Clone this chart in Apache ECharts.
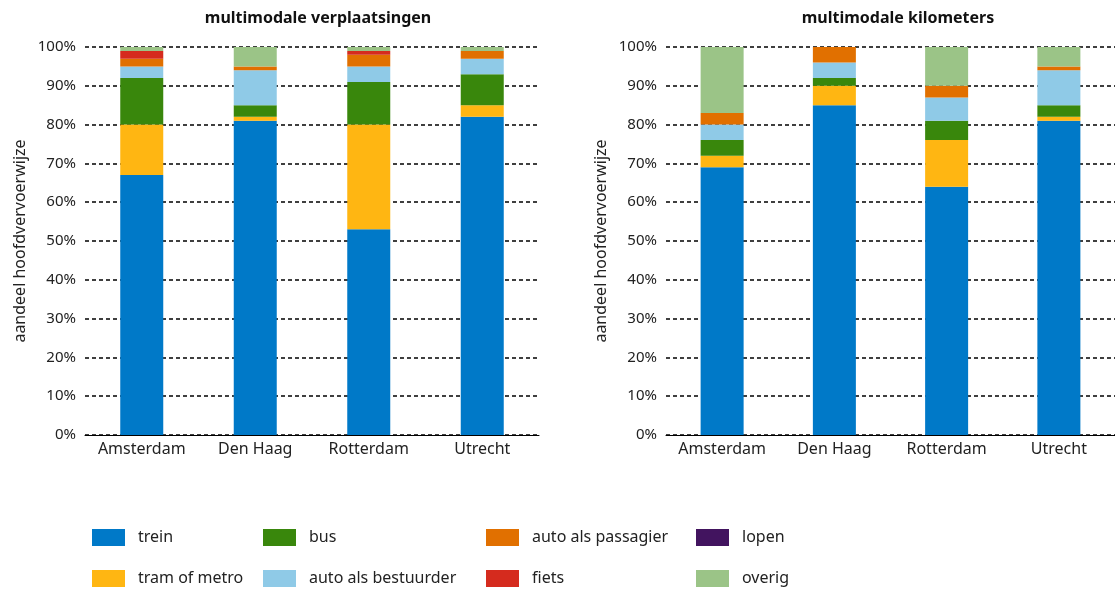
<!DOCTYPE html>
<html>
<head>
<meta charset="utf-8">
<script src="https://cdn.jsdelivr.net/npm/echarts@6/dist/echarts.min.js"></script>
<style>
  html, body { margin: 0; padding: 0; background: #fff; }
  #chart { width: 1115px; height: 591px; }
</style>
</head>
<body>
<div id="chart"></div>
<script>
// steden op de x-as
const cities = ['Amsterdam', 'Den Haag', 'Rotterdam', 'Utrecht']
const modes = ['trein', 'tram of metro', 'bus', 'auto als bestuurder', 'auto als passagier', 'fiets', 'lopen', 'overig']
const colors = ['#0079c8', '#ffb612', '#39870c', '#8fcae7', '#e17000', '#d52b1e', '#42145f', '#9bc487']

// multimodale verplaatsingen (%)
const verpTrein = [67, 81, 53, 82]
const verpTram = [13, 1, 27, 3]
const verpBus = [12, 3, 11, 8]
const verpBestuurder = [3, 9, 4, 4]
const verpPassagier = [2, 1, 3, 2]
const verpFiets = [2, 0, 1, 0]
const verpLopen = [0, 0, 0, 0]
const verpOverig = [1, 5, 1, 1]

// multimodale kilometers (%)
const kmTrein = [69, 85, 64, 81]
const kmTram = [3, 5, 12, 1]
const kmBus = [4, 2, 5, 3]
const kmBestuurder = [4, 4, 6, 9]
const kmPassagier = [3, 4, 3, 1]
const kmFiets = [0, 0, 0, 0]
const kmLopen = [0, 0, 0, 0]
const kmOverig = [17, 0, 10, 5]

const yTicks = [0, 10, 20, 30, 40, 50, 60, 70, 80, 90, 100]

const verpData = [verpTrein, verpTram, verpBus, verpBestuurder, verpPassagier, verpFiets, verpLopen, verpOverig]
const kmData = [kmTrein, kmTram, kmBus, kmBestuurder, kmPassagier, kmFiets, kmLopen, kmOverig]

const font = 'Noto Sans'

function makeSeries (idx, rows) {
  return rows.map((d, i) => ({
    name: modes[i],
    type: 'bar',
    stack: 'chart' + idx,
    xAxisIndex: idx,
    yAxisIndex: idx,
    barWidth: 43,
    itemStyle: { color: colors[i] },
    data: d
  }))
}

function xAxis (idx) {
  return {
    type: 'category',
    gridIndex: idx,
    data: cities,
    axisLine: { lineStyle: { color: '#000', width: 1 } },
    axisTick: { show: false },
    axisLabel: { color: '#222', fontSize: 16, fontFamily: font, margin: 6, interval: 0 }
  }
}

function yAxis (idx) {
  return {
    type: 'value',
    gridIndex: idx,
    min: yTicks[0],
    max: yTicks[yTicks.length - 1],
    interval: 10,
    name: 'aandeel hoofdvervoerwijze',
    nameLocation: 'middle',
    nameGap: 57,
    nameTextStyle: { color: '#222', fontSize: 16, fontFamily: font },
    axisLine: { show: false },
    axisTick: { show: false },
    axisLabel: { color: '#222', fontSize: 15, fontFamily: font, formatter: '{value}%', margin: 9 },
    splitLine: { lineStyle: { color: '#000', type: [4, 3], width: 1.5 } }
  }
}

// legenda: een blokje per item, zoals in het origineel
const legendPos = [
  [92, 529], [92, 570], [263, 529], [263, 570], [486, 529], [486, 570], [696, 529], [696, 570]
]
const legends = modes.map((m, i) => ({
  data: [m],
  left: legendPos[i][0],
  top: legendPos[i][1],
  padding: 0,
  itemWidth: 33,
  itemHeight: 17,
  itemGap: 0,
  selectedMode: false,
  icon: 'rect',
  textStyle: { color: '#222', fontSize: 16, fontFamily: font, padding: [0, 0, 0, 8] }
}))

const chart = echarts.init(document.getElementById('chart'))
chart.setOption({
  animation: false,
  title: [
    { text: 'multimodale verplaatsingen', left: 313, top: 5, textAlign: 'center',
      textStyle: { fontSize: 16, fontWeight: 'bold', color: '#111', fontFamily: font } },
    { text: 'multimodale kilometers', left: 893, top: 5, textAlign: 'center',
      textStyle: { fontSize: 16, fontWeight: 'bold', color: '#111', fontFamily: font } }
  ],
  legend: legends,
  grid: [
    { left: 85, top: 47, width: 454, height: 388 },
    { left: 666, top: 47, width: 453, height: 388 }
  ],
  xAxis: [xAxis(0), xAxis(1)],
  yAxis: [yAxis(0), yAxis(1)],
  series: makeSeries(0, verpData).concat(makeSeries(1, kmData))
})
</script>
</body>
</html>
